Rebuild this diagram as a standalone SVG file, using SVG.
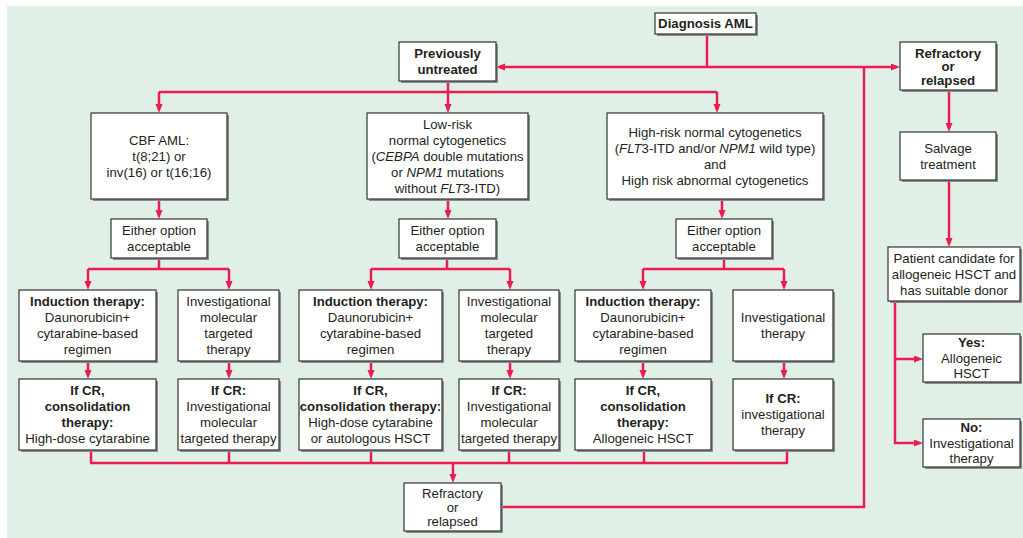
<svg xmlns="http://www.w3.org/2000/svg" width="1023" height="538" viewBox="0 0 1023 538">
<defs>
<style>
.bg{fill:#e1f0e6}
.sh{fill:#8c8c8c}
.bx{fill:#ffffff;stroke:#333333;stroke-width:1.2}
text{font-family:"Liberation Sans",Arial,Helvetica,sans-serif;font-size:13.2px;fill:#231f20;text-anchor:middle}
.b{font-weight:bold}
.i{font-style:italic}
.c{fill:none;stroke:#ec1c52;stroke-width:2.5;stroke-linecap:butt;stroke-linejoin:miter}
.a{marker-end:url(#ah)}
</style>
<marker id="ah" markerUnits="userSpaceOnUse" markerWidth="10" markerHeight="8" refX="5" refY="3.5" orient="auto">
<path d="M0,0 L9,3.5 L0,7 z" fill="#ec1c52"/>
</marker>
</defs>
<rect class="bg" x="7" y="6" width="1016" height="532"/>

<g id="connectors">
<path class="c" d="M707,34 V67"/>
<path class="c a" d="M707,67 H500"/>
<path class="c a" d="M707,67 H896"/>
<path class="c" d="M448,81 V92 M159,92 H717"/>
<path class="c a" d="M159,92 V109"/>
<path class="c a" d="M448,92 V109"/>
<path class="c a" d="M717,92 V109"/>
<path class="c a" d="M949,90 V128"/>
<path class="c a" d="M949,180 V243"/>
<path class="c a" d="M159,199 V215"/>
<path class="c a" d="M448,199 V215"/>
<path class="c a" d="M722,199 V215"/>
<path class="c" d="M159,258 V269 M88,269 H229"/>
<path class="c" d="M447,258 V269 M371,269 H510"/>
<path class="c" d="M724,258 V269 M643,269 H784"/>
<path class="c a" d="M88,269 V286"/>
<path class="c a" d="M229,269 V286"/>
<path class="c a" d="M371,269 V286"/>
<path class="c a" d="M510,269 V286"/>
<path class="c a" d="M643,269 V286"/>
<path class="c a" d="M784,269 V286"/>
<path class="c a" d="M88,361 V375"/>
<path class="c a" d="M229,361 V375"/>
<path class="c a" d="M371,361 V375"/>
<path class="c a" d="M510,361 V375"/>
<path class="c a" d="M643,361 V375"/>
<path class="c a" d="M784,361 V375"/>
<path class="c" d="M91,450 V463 M229,450 V463 M371,450 V463 M509,450 V463 M644,450 V463 M787,450 V463 M90,463 H788"/>
<path class="c a" d="M453,463 V479"/>
<path class="c" d="M501,507 H864 V67"/>
<path class="c a" d="M895,301 V443 H919"/>
<path class="c a" d="M895,359 H919"/>
</g>

<g id="diagnosis">
<rect class="sh" x="657" y="15" width="101" height="21"/>
<rect class="bx" x="655" y="13" width="101" height="21"/>
<text class="b" x="705.5" y="28.2">Diagnosis AML</text>
</g>

<g id="previously-untreated">
<rect class="sh" x="401" y="44" width="97" height="39"/>
<rect class="bx" x="399" y="42" width="97" height="39"/>
<text class="b" x="447.5" y="58.2">Previously</text>
<text class="b" x="447.5" y="74.2">untreated</text>
</g>

<g id="refractory-top">
<rect class="sh" x="902" y="44" width="96" height="48"/>
<rect class="bx" x="900" y="42" width="96" height="48"/>
<text class="b" x="948" y="57.5">Refractory</text>
<text class="b" x="948" y="71">or</text>
<text class="b" x="948" y="84.5">relapsed</text>
</g>

<g id="cbf-aml">
<rect class="sh" x="93" y="115" width="136" height="86"/>
<rect class="bx" x="91" y="113" width="136" height="86"/>
<text x="159" y="144.7">CBF AML:</text>
<text x="159" y="160.7">t(8;21) or</text>
<text x="159" y="176.7">inv(16) or t(16;16)</text>
</g>

<g id="low-risk">
<rect class="sh" x="369" y="115" width="161" height="86"/>
<rect class="bx" x="367" y="113" width="161" height="86"/>
<text x="447.5" y="128.7">Low-risk</text>
<text x="447.5" y="144.7">normal cytogenetics</text>
<text x="447.5" y="160.7">(<tspan class="i">CEBPA</tspan> double mutations</text>
<text x="447.5" y="176.7">or <tspan class="i">NPM1</tspan> mutations</text>
<text x="447.5" y="192.7">without <tspan class="i">FLT</tspan>3-ITD)</text>
</g>

<g id="high-risk">
<rect class="sh" x="609" y="115" width="216" height="86"/>
<rect class="bx" x="607" y="113" width="216" height="86"/>
<text x="715" y="137.2">High-risk normal cytogenetics</text>
<text x="715" y="153.2">(<tspan class="i">FLT</tspan>3-ITD and/or <tspan class="i">NPM1</tspan> wild type)</text>
<text x="715" y="169.2">and</text>
<text x="715" y="185.2">High risk abnormal cytogenetics</text>
</g>

<g id="salvage">
<rect class="sh" x="902" y="134" width="96" height="48"/>
<rect class="bx" x="900" y="132" width="96" height="48"/>
<text x="948" y="152.7">Salvage</text>
<text x="948" y="168.7">treatment</text>
</g>

<g id="either-1">
<rect class="sh" x="113" y="221" width="96" height="39"/>
<rect class="bx" x="111" y="219" width="96" height="39"/>
<text x="159" y="235.2">Either option</text>
<text x="159" y="251.2">acceptable</text>
</g>
<g id="either-2">
<rect class="sh" x="401" y="221" width="97" height="39"/>
<rect class="bx" x="399" y="219" width="97" height="39"/>
<text x="447.5" y="235.2">Either option</text>
<text x="447.5" y="251.2">acceptable</text>
</g>
<g id="either-3">
<rect class="sh" x="678" y="221" width="96" height="39"/>
<rect class="bx" x="676" y="219" width="96" height="39"/>
<text x="724" y="235.2">Either option</text>
<text x="724" y="251.2">acceptable</text>
</g>

<g id="patient-candidate">
<rect class="sh" x="890" y="249" width="132" height="54"/>
<rect class="bx" x="888" y="247" width="132" height="54"/>
<text x="954" y="263">Patient candidate for</text>
<text x="954" y="279">allogeneic HSCT and</text>
<text x="954" y="295">has suitable donor</text>
</g>

<g id="induction-1">
<rect class="sh" x="21" y="292" width="137" height="71"/>
<rect class="bx" x="19" y="290" width="137" height="71"/>
<text class="b" x="87.5" y="306.2">Induction therapy:</text>
<text x="87.5" y="322.2">Daunorubicin+</text>
<text x="87.5" y="338.2">cytarabine-based</text>
<text x="87.5" y="354.2">regimen</text>
</g>
<g id="investigational-1">
<rect class="sh" x="180" y="292" width="101" height="71"/>
<rect class="bx" x="178" y="290" width="101" height="71"/>
<text x="228.5" y="306.2">Investigational</text>
<text x="228.5" y="322.2">molecular</text>
<text x="228.5" y="338.2">targeted</text>
<text x="228.5" y="354.2">therapy</text>
</g>
<g id="induction-2">
<rect class="sh" x="301" y="292" width="143" height="71"/>
<rect class="bx" x="299" y="290" width="143" height="71"/>
<text class="b" x="370.5" y="306.2">Induction therapy:</text>
<text x="370.5" y="322.2">Daunorubicin+</text>
<text x="370.5" y="338.2">cytarabine-based</text>
<text x="370.5" y="354.2">regimen</text>
</g>
<g id="investigational-2">
<rect class="sh" x="461" y="292" width="100" height="71"/>
<rect class="bx" x="459" y="290" width="100" height="71"/>
<text x="509" y="306.2">Investigational</text>
<text x="509" y="322.2">molecular</text>
<text x="509" y="338.2">targeted</text>
<text x="509" y="354.2">therapy</text>
</g>
<g id="induction-3">
<rect class="sh" x="577" y="292" width="136" height="71"/>
<rect class="bx" x="575" y="290" width="136" height="71"/>
<text class="b" x="643" y="306.2">Induction therapy:</text>
<text x="643" y="322.2">Daunorubicin+</text>
<text x="643" y="338.2">cytarabine-based</text>
<text x="643" y="354.2">regimen</text>
</g>
<g id="investigational-3">
<rect class="sh" x="735" y="292" width="100" height="71"/>
<rect class="bx" x="733" y="290" width="100" height="71"/>
<text x="783" y="322.2">Investigational</text>
<text x="783" y="338.2">therapy</text>
</g>

<g id="yes">
<rect class="sh" x="925" y="336" width="97" height="48"/>
<rect class="bx" x="923" y="334" width="97" height="48"/>
<text class="b" x="971.5" y="346.7">Yes:</text>
<text x="971.5" y="362.7">Allogeneic</text>
<text x="971.5" y="378.2">HSCT</text>
</g>

<g id="cr-1">
<rect class="sh" x="21" y="381" width="137" height="71"/>
<rect class="bx" x="19" y="379" width="137" height="71"/>
<text class="b" x="87.5" y="395.2">If CR,</text>
<text class="b" x="87.5" y="411.2">consolidation</text>
<text class="b" x="87.5" y="427.2">therapy:</text>
<text x="87.5" y="443.2">High-dose cytarabine</text>
</g>
<g id="cr-2">
<rect class="sh" x="180" y="381" width="101" height="71"/>
<rect class="bx" x="178" y="379" width="101" height="71"/>
<text class="b" x="228.5" y="395.2">If CR:</text>
<text x="228.5" y="411.2">Investigational</text>
<text x="228.5" y="427.2">molecular</text>
<text x="228.5" y="443.2">targeted therapy</text>
</g>
<g id="cr-3">
<rect class="sh" x="301" y="381" width="143" height="71"/>
<rect class="bx" x="299" y="379" width="143" height="71"/>
<text class="b" x="370.5" y="395.2">If CR,</text>
<text class="b" x="370.5" y="411.2">consolidation therapy:</text>
<text x="370.5" y="427.2">High-dose cytarabine</text>
<text x="370.5" y="443.2">or autologous HSCT</text>
</g>
<g id="cr-4">
<rect class="sh" x="461" y="381" width="100" height="71"/>
<rect class="bx" x="459" y="379" width="100" height="71"/>
<text class="b" x="509" y="395.2">If CR:</text>
<text x="509" y="411.2">Investigational</text>
<text x="509" y="427.2">molecular</text>
<text x="509" y="443.2">targeted therapy</text>
</g>
<g id="cr-5">
<rect class="sh" x="577" y="381" width="136" height="71"/>
<rect class="bx" x="575" y="379" width="136" height="71"/>
<text class="b" x="643" y="395.2">If CR,</text>
<text class="b" x="643" y="411.2">consolidation</text>
<text class="b" x="643" y="427.2">therapy:</text>
<text x="643" y="443.2">Allogeneic HSCT</text>
</g>
<g id="cr-6">
<rect class="sh" x="735" y="381" width="100" height="71"/>
<rect class="bx" x="733" y="379" width="100" height="71"/>
<text class="b" x="783" y="403.2">If CR:</text>
<text x="783" y="419.2">investigational</text>
<text x="783" y="435.2">therapy</text>
</g>

<g id="no">
<rect class="sh" x="925" y="421" width="97" height="48"/>
<rect class="bx" x="923" y="419" width="97" height="48"/>
<text class="b" x="971.5" y="431.7">No:</text>
<text x="971.5" y="447.7">Investigational</text>
<text x="971.5" y="463.2">therapy</text>
</g>

<g id="refractory-bottom">
<rect class="sh" x="406" y="485" width="97" height="48"/>
<rect class="bx" x="404" y="483" width="97" height="48"/>
<text x="452.5" y="497.7">Refractory</text>
<text x="452.5" y="511.7">or</text>
<text x="452.5" y="525.7">relapsed</text>
</g>
</svg>
